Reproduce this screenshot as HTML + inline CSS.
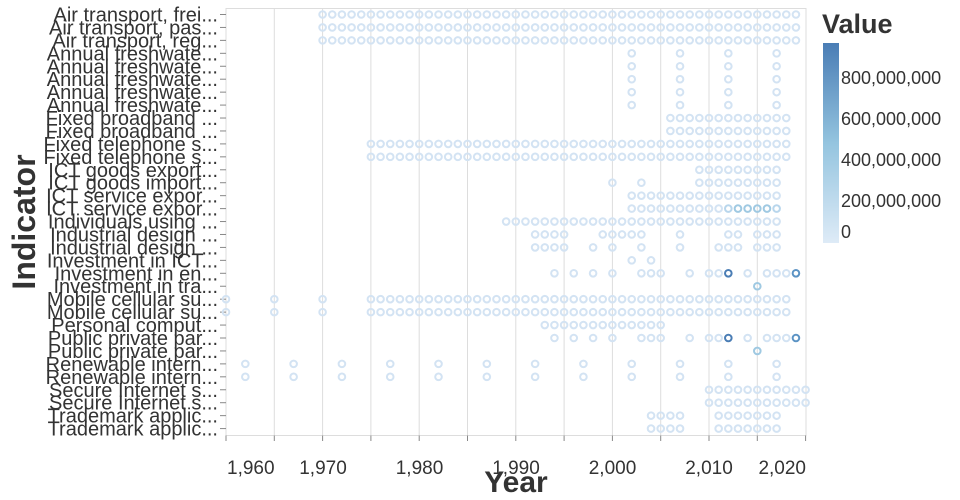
<!DOCTYPE html>
<html><head><meta charset="utf-8"><style>
html,body{margin:0;padding:0;background:#fff;}
svg{display:block;font-family:"Liberation Sans","DejaVu Sans",sans-serif;}
</style></head><body>
<svg id="s" width="960" height="500" viewBox="0 0 960 500" xmlns="http://www.w3.org/2000/svg">
<defs><linearGradient id="g" x1="0" y1="1" x2="0" y2="0">
<stop offset="0" stop-color="#deebf7"/><stop offset="0.5" stop-color="#94c4df"/><stop offset="1" stop-color="#4a7db5"/></linearGradient></defs>
<g id="grid" stroke="#ddd" stroke-width="1"></g>
<rect x="226" y="8.5" width="580" height="427" fill="none" stroke="#ddd"/>
<g id="ticks" stroke="#888" stroke-width="1"></g>
<g id="dots" fill="none" stroke-width="2"></g>
<g font-size="20" fill="#333" text-anchor="end" id="ylab">
<text x="218" y="21.5">Air transport, frei...</text>
<text x="218" y="34.4">Air transport, pas...</text>
<text x="218" y="47.4">Air transport, reg...</text>
<text x="218" y="60.3">Annual freshwate...</text>
<text x="218" y="73.3">Annual freshwate...</text>
<text x="218" y="86.2">Annual freshwate...</text>
<text x="218" y="99.1">Annual freshwate...</text>
<text x="218" y="112.1">Annual freshwate...</text>
<text x="218" y="125">Fixed broadband ...</text>
<text x="218" y="138">Fixed broadband ...</text>
<text x="218" y="150.9">Fixed telephone s...</text>
<text x="218" y="163.8">Fixed telephone s...</text>
<text x="218" y="176.8">ICT goods export...</text>
<text x="218" y="189.7">ICT goods import...</text>
<text x="218" y="202.7">ICT service expor...</text>
<text x="218" y="215.6">ICT service expor...</text>
<text x="218" y="228.5">Individuals using ...</text>
<text x="218" y="241.5">Industrial design ...</text>
<text x="218" y="254.4">Industrial design ...</text>
<text x="218" y="267.4">Investment in ICT...</text>
<text x="218" y="280.3">Investment in en...</text>
<text x="218" y="293.2">Investment in tra...</text>
<text x="218" y="306.2">Mobile cellular su...</text>
<text x="218" y="319.1">Mobile cellular su...</text>
<text x="218" y="332.1">Personal comput...</text>
<text x="218" y="345">Public private par...</text>
<text x="218" y="357.9">Public private par...</text>
<text x="218" y="370.9">Renewable intern...</text>
<text x="218" y="383.8">Renewable intern...</text>
<text x="218" y="396.8">Secure Internet s...</text>
<text x="218" y="409.7">Secure Internet s...</text>
<text x="218" y="422.6">Trademark applic...</text>
<text x="218" y="435.6">Trademark applic...</text>
</g>
<g font-size="19" fill="#333">
<text x="227" y="474">1,960</text>
<text x="323" y="474" text-anchor="middle">1,970</text>
<text x="419.5" y="474" text-anchor="middle">1,980</text>
<text x="516" y="474" text-anchor="middle">1,990</text>
<text x="612.5" y="474" text-anchor="middle">2,000</text>
<text x="709" y="474" text-anchor="middle">2,010</text>
<text x="806" y="474" text-anchor="end">2,020</text>
</g>
<text x="516" y="492" font-size="30" font-weight="bold" fill="#333" text-anchor="middle">Year</text>
<text transform="translate(35,222) rotate(-90)" font-size="32" font-weight="bold" fill="#333" text-anchor="middle">Indicator</text>
<text x="822" y="33" font-size="27" font-weight="bold" fill="#333">Value</text>
<rect x="823" y="43" width="16" height="200" fill="url(#g)"/>
<g font-size="18" fill="#333">
<text x="841" y="84">800,000,000</text>
<text x="841" y="125">600,000,000</text>
<text x="841" y="166">400,000,000</text>
<text x="841" y="207">200,000,000</text>
<text x="841" y="238">0</text>
</g>
</svg>
<script>
var NS="http://www.w3.org/2000/svg";
function el(p,t,a){var e=document.createElementNS(NS,t);for(var k in a)e.setAttribute(k,a[k]);document.getElementById(p).appendChild(e);}
function X(y){return 226+(y-1960)*9.66;}
function Y(r){return 14.5+r*12.94;}
for(var k=1;k<12;k++){var x=226+k*48.3;el("grid","line",{x1:x,x2:x,y1:8.5,y2:435.5});}
for(var k=0;k<=12;k++){var x=226+k*48.3;el("ticks","line",{x1:x,x2:x,y1:435.5,y2:441});}
for(var r=0;r<33;r++){el("ticks","line",{x1:220,x2:226,y1:Y(r),y2:Y(r)});}
function R(a,b,s){var o=[];for(var y=a;y<=b;y+=(s||1))o.push(y);return o;}
var L="#d3e3f3",M="#9fc9e2",D="#4a7db5",D2="#5b93c4";
var rows=[
R(1970,2019),R(1970,2019),R(1970,2019),
[2002,2007,2012,2017],[2002,2007,2012,2017],[2002,2007,2012,2017],[2002,2007,2012,2017],[2002,2007,2012,2017],
R(2006,2018),R(2006,2018),R(1975,2018),R(1975,2018),
R(2009,2017),[2000,2003].concat(R(2009,2017)),R(2002,2017),R(2002,2017),
R(1989,2017),
[1992,1993,1994,1995,1999,2000,2001,2002,2003,2007,2012,2013,2015,2016,2017],
[1992,1993,1994,1995,1998,2000,2003,2007,2011,2012,2013,2015,2016,2017],
[2002,2004],
[1994,1996,1998,2000,2003,2004,2005,2008,2010,2011,2012,2014,2016,2017,2018,2019],
[2015],
[1960,1965,1970].concat(R(1975,2018)),[1960,1965,1970].concat(R(1975,2018)),
R(1993,2005),
[1994,1996,1998,2000,2003,2004,2005,2008,2010,2011,2012,2014,2016,2017,2018,2019],
[2015],
R(1962,2017,5),R(1962,2017,5),
R(2010,2020),R(2010,2020),
[2004,2005,2006,2007].concat(R(2011,2017)),[2004,2005,2006,2007].concat(R(2011,2017))
];
for(var r=0;r<rows.length;r++){rows[r].forEach(function(y){
 var c=L;
 if((r==20||r==25)&&y==2012)c=D;
 if((r==20||r==25)&&y==2019)c=D2;
 if(r==21||r==26)c=M;
 if(r==15&&y>=2013&&y<=2016)c=M;
 if(r==15&&(y==2012||y==2017))c="#b8d6ec";
 el("dots","circle",{cx:X(y),cy:Y(r),r:3.3,stroke:c});
});}
</script>
</body></html>
